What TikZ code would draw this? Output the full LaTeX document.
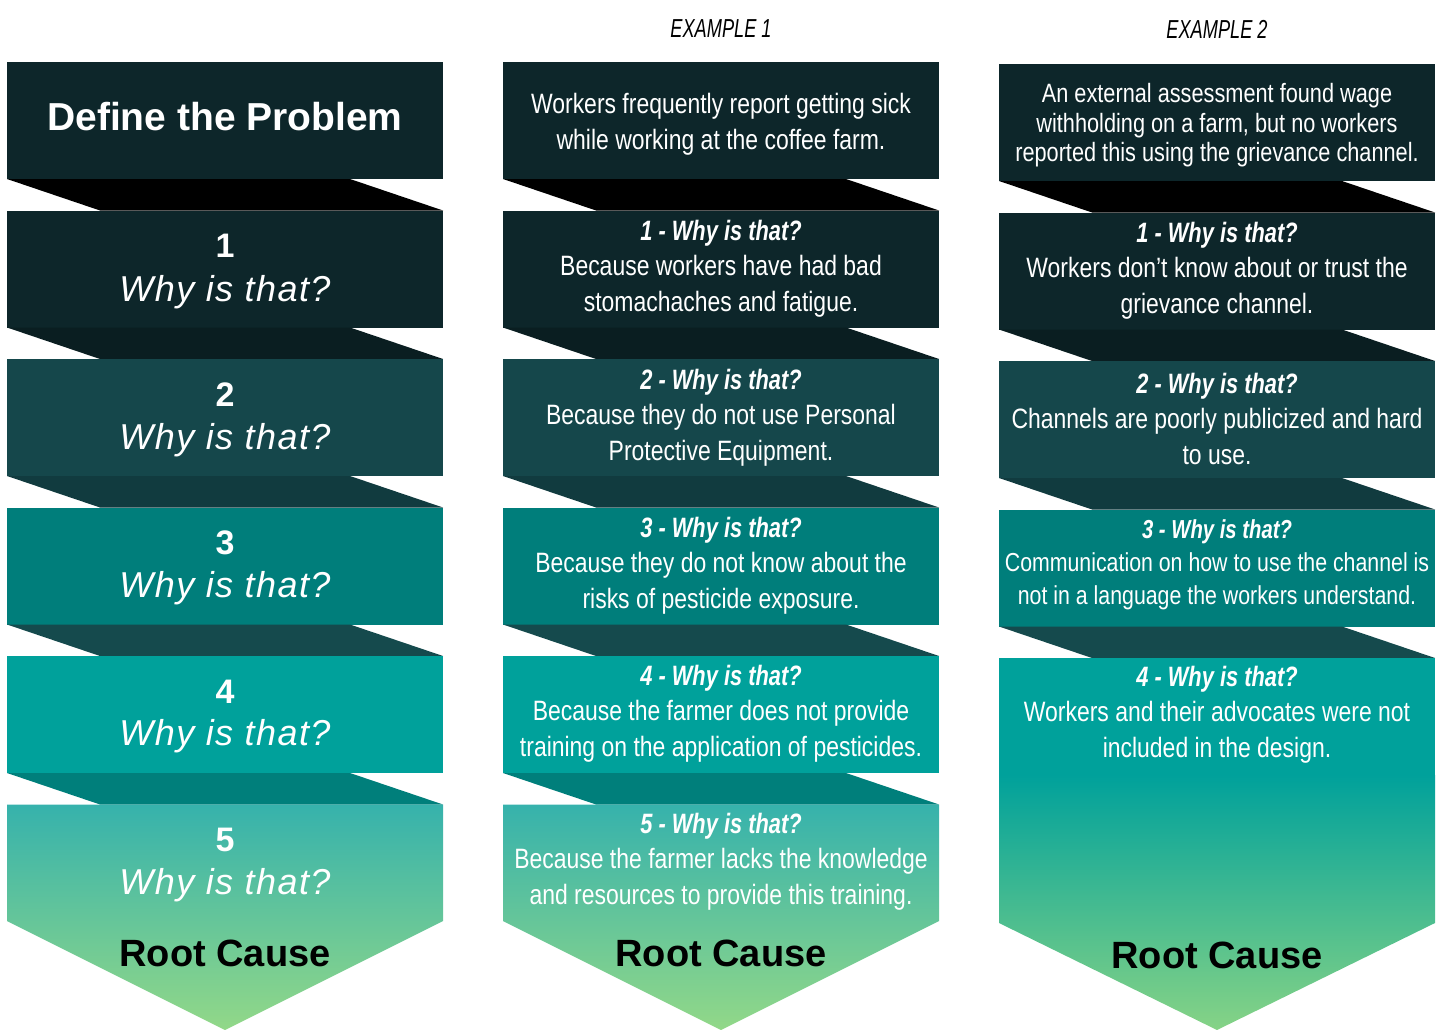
\documentclass[tikz,border=0pt]{standalone}
\usepackage{fontspec}
\setmainfont{Liberation Sans}
\newfontfamily\cond[FakeStretch=0.82]{Liberation Sans}
\newfontfamily\condb[FakeStretch=0.78]{Liberation Sans}
\newfontfamily\condx[FakeStretch=0.7]{Liberation Sans}
\newfontfamily\widesans[LetterSpace=4]{Liberation Sans}
\definecolor{cA}{HTML}{0D262A}
\definecolor{cB}{HTML}{15474B}
\definecolor{cC}{HTML}{007E7B}
\definecolor{cD}{HTML}{00A19B}
\definecolor{gTop}{HTML}{36B2AC}
\definecolor{gBot}{HTML}{92D888}
\definecolor{gBotB}{HTML}{86D386}
\definecolor{k0}{HTML}{000000}
\definecolor{k1}{HTML}{0A1E21}
\definecolor{k2}{HTML}{113B3F}
\definecolor{k3}{HTML}{154A4D}
\definecolor{k4}{HTML}{007F7B}
\newcommand\rbox[3]{\fill[#3] (#1,#2) rectangle ++(436,117);}
\newcommand\fold[3]{\fill[#3] (#1,#2) -- ++(343,0) -- ++(93,31.5) -- ++(-343,0) -- cycle;}
\tikzset{
  x=1pt, y=-1pt,
  extxt/.style={align=center, text=white, inner sep=0pt, font=\cond\fontsize{28}{35.5}\selectfont},
  numtxt/.style={text=white, inner sep=0pt, font=\fontsize{34}{40}\selectfont\bfseries},
  whytxt/.style={text=white, inner sep=0pt, font=\widesans\fontsize{36}{40}\selectfont\itshape},
  roottxt/.style={text=black, inner sep=0pt, font=\fontsize{38}{44}\selectfont\bfseries},
  headtxt/.style={text=black, inner sep=0pt, font=\condx\fontsize{26}{30}\selectfont\itshape},
}
\newcommand\hd[1]{{\condb\bfseries\itshape #1}}
\begin{document}
\begin{tikzpicture}
\useasboundingbox (0,0) rectangle (1440,1030);
% ---------- columns 1 and 2 ----------
\foreach \x in {7,503}{
  \rbox{\x}{62}{cA}
  \fold{\x}{179}{k0}
  \rbox{\x}{210.5}{cA}
  \fold{\x}{327.5}{k1}
  \rbox{\x}{359}{cB}
  \fold{\x}{476}{k2}
  \rbox{\x}{507.5}{cC}
  \fold{\x}{624.5}{k3}
  \rbox{\x}{656}{cD}
  \fold{\x}{773}{k4}
  \shade[top color=gTop, bottom color=gBot] (\x,804.5) -- ++(436,0) -- ++(0,116.5) -- ++(-218,109) -- ++(-218,-109) -- cycle;
}
% ---------- column 3 ----------
\rbox{999}{64}{cA}
\fold{999}{181}{k0}
\rbox{999}{212.5}{cA}
\fold{999}{329.5}{k1}
\rbox{999}{361}{cB}
\fold{999}{478}{k2}
\rbox{999}{509.5}{cC}
\fold{999}{626.5}{k3}
\fill[cD] (999,658) rectangle (1435,776);
\shade[top color=cD, bottom color=gBotB] (999,775) -- (1435,775) -- (1435,923) -- (1217,1030) -- (999,923) -- cycle;

% ---------- headers ----------
\node[headtxt] (h1) at (721,29) {EXAMPLE 1};
\node[headtxt] (h2) at (1217,29) {EXAMPLE 2};

% ---------- column 1 text ----------
\node[text=white, inner sep=0pt, font=\fontsize{39}{44}\selectfont\bfseries] (p1) at (225,117) {Define the Problem};
\node[numtxt] (n1) at (225,246) {1};
\node[whytxt] (w1) at (225,292) {Why is that?};
\node[numtxt] (n2) at (225,395) {2};
\node[whytxt] (w2) at (225,440) {Why is that?};
\node[numtxt] (n3) at (225,543) {3};
\node[whytxt] (w3) at (225,588) {Why is that?};
\node[numtxt] (n4) at (225,692) {4};
\node[whytxt] (w4) at (225,736) {Why is that?};
\node[numtxt] (n5) at (225,840) {5};
\node[whytxt] (w5) at (225,885) {Why is that?};
\node[roottxt] (r1) at (225,953) {Root Cause};

% ---------- column 2 text ----------
\node[extxt] (e10) at (721,124.5) {Workers frequently report getting sick\\while working at the coffee farm.};
\node[extxt] (e11) at (721,268.5) {\hd{1 - Why is that?}\\Because workers have had bad\\stomachaches and fatigue.};
\node[extxt] (e12) at (721,417.5) {\hd{2 - Why is that?}\\Because they do not use Personal\\Protective Equipment.};
\node[extxt] (e13) at (721,565.5) {\hd{3 - Why is that?}\\Because they do not know about the\\risks of pesticide exposure.};
\node[extxt] (e14) at (721,713.5) {\hd{4 - Why is that?}\\Because the farmer does not provide\\training on the application of pesticides.};
\node[extxt] (e15) at (721,861.5) {\hd{5 - Why is that?}\\Because the farmer lacks the knowledge\\and resources to provide this training.};
\node[roottxt] (r2) at (721,953) {Root Cause};

% ---------- column 3 text ----------
\node[extxt, font=\cond\fontsize{26.5}{29.5}\selectfont] (e20) at (1217,125.5) {An external assessment found wage\\withholding on a farm, but no workers\\reported this using the grievance channel.};
\node[extxt] (e21) at (1217,270.5) {\hd{1 - Why is that?}\\Workers don’t know about or trust the\\grievance channel.};
\node[extxt] (e22) at (1217,418.5) {\hd{2 - Why is that?}\\Channels are poorly publicized and hard\\to use.};
\node[extxt, font=\cond\fontsize{26}{33}\selectfont] (e23) at (1217,564.5) {\hd{3 - Why is that?}\\Communication on how to use the channel is\\not in a language the workers understand.};
\node[extxt] (e24) at (1217,714.5) {\hd{4 - Why is that?}\\Workers and their advocates were not\\included in the design.};
\node[roottxt] (r3) at (1217,955) {Root Cause};
\end{tikzpicture}
\end{document}
